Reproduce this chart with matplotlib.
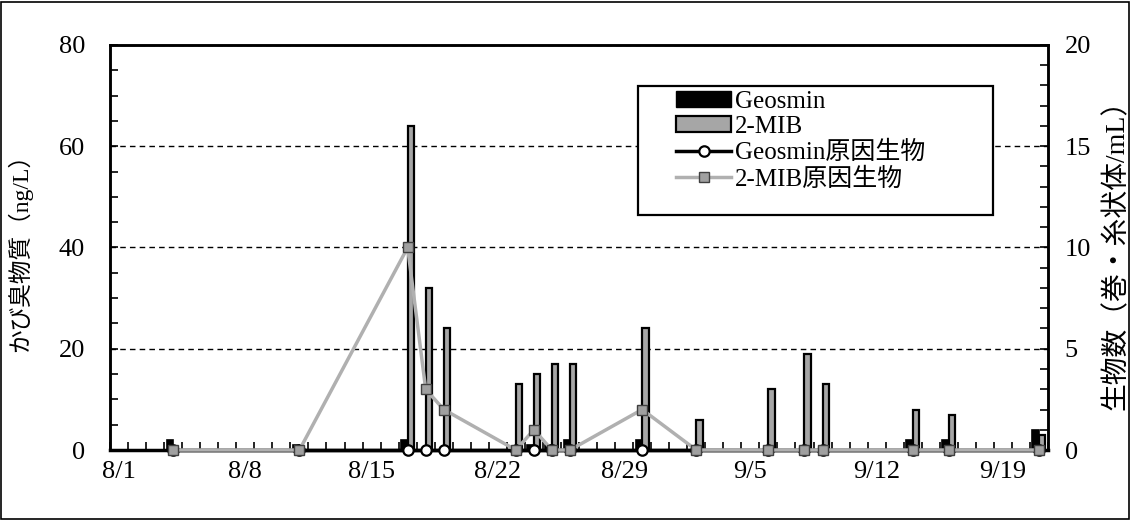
import datetime as dt

import matplotlib.pyplot as plt
from matplotlib.lines import Line2D
from matplotlib.patches import Patch, Rectangle
from matplotlib.ticker import FixedLocator, MultipleLocator

plt.rcParams["font.family"] = ["Liberation Serif", "Noto Sans CJK JP"]

# sampling dates and values
dates = ["8/4", "8/11", "8/17", "8/18", "8/19", "8/23", "8/24", "8/25", "8/26",
         "8/30", "9/2", "9/6", "9/8", "9/9", "9/14", "9/16", "9/21"]
geosmin = [2, 1, 2, 0, 0, 0, 1, 1, 2, 2, 0, 0, 0, 0, 2, 2, 4]
mib = [0, 0, 64, 32, 24, 13, 15, 17, 17, 24, 6, 12, 19, 13, 8, 7, 3]
geosmin_org = [0] * len(dates)
mib_org = [0, 0, 10, 3, 2, 0, 1, 0, 0, 2, 0, 0, 0, 0, 0, 0, 0]

tick_labels = ["8/1", "8/8", "8/15", "8/22", "8/29", "9/5", "9/12", "9/19"]
start = dt.date(2000, 8, 1)
end = dt.date(2000, 9, 21)


def day_index(s):
    m, d = s.split("/")
    return (dt.date(2000, int(m), int(d)) - start).days


x = [day_index(d) for d in dates]
tick_pos = [day_index(t) for t in tick_labels]
n_days = (end - start).days + 1

fig = plt.figure(figsize=(11.31, 5.2), dpi=100)
ax = fig.add_axes([0.0973, 0.1346, 0.8293, 0.7789])
ax2 = ax.twinx()

w = 0.36
ax.bar([v - w / 2 for v in x], geosmin, width=w, color="black",
       edgecolor="black", linewidth=1.2, zorder=3)
ax.bar([v + w / 2 for v in x], mib, width=w, color="#a6a6a6",
       edgecolor="black", linewidth=1.6, zorder=3)

ax2.plot(x, geosmin_org, color="black", lw=2.5, marker="o", ms=7.5,
         mfc="white", mec="black", mew=1.6, zorder=4, clip_on=False)
ax2.plot(x, mib_org, color="#b0b0b0", lw=2.5, marker="s", ms=6.5,
         mfc="#a0a0a0", mec="#404040", mew=1.0, zorder=5, clip_on=False)

ax.set_xlim(-0.5, n_days - 0.5)
ax.set_ylim(0, 80)
ax2.set_ylim(0, 20)

ax.yaxis.set_major_locator(MultipleLocator(20))
ax.yaxis.set_minor_locator(MultipleLocator(5))
ax2.yaxis.set_major_locator(MultipleLocator(5))
ax2.yaxis.set_minor_locator(MultipleLocator(1))
ax.set_xticks(tick_pos)
ax.set_xticklabels(tick_labels)
ax.xaxis.set_minor_locator(FixedLocator([i + 0.5 for i in range(-1, n_days)]))

ax.tick_params(axis="x", which="major", length=0, pad=8, labelsize=19)
ax.tick_params(axis="x", which="minor", direction="in", length=6, width=1.2)
ax.tick_params(axis="y", which="both", direction="in", length=6, width=1.2,
               labelsize=19, pad=18)
ax2.tick_params(axis="y", which="both", direction="in", length=6, width=1.2,
                labelsize=19, pad=12)

for a in (ax, ax2):
    for sp in a.spines.values():
        sp.set_linewidth(1.8)
ax.spines["bottom"].set_linewidth(2.5)

ax.grid(axis="y", which="major", color="black", linestyle=(0, (4, 3)), lw=1.0)
ax.set_axisbelow(True)

ax.set_ylabel("かび臭物質（ng/L）", fontsize=17)
ax2.set_ylabel("生物数（巻・糸状体/mL）", fontsize=20)
ax.yaxis.set_label_coords(-0.083, 0.5)
ax2.yaxis.set_label_coords(1.059, 0.5)

handles = [
    Patch(facecolor="black", edgecolor="black"),
    Patch(facecolor="#a6a6a6", edgecolor="black", linewidth=1.6),
    Line2D([], [], color="black", lw=2.5, marker="o", ms=7.5, mfc="white",
           mec="black", mew=1.6),
    Line2D([], [], color="#b0b0b0", lw=2.5, marker="s", ms=6.5,
           mfc="#a0a0a0", mec="#404040", mew=1.0),
]
labels = ["Geosmin", "2-MIB", "Geosmin原因生物", "2-MIB原因生物"]

# legend frame drawn separately: the entries sit indented inside it
frame = Rectangle((638 / 1131, 1 - 215 / 520), 355 / 1131, 129 / 520,
                  transform=fig.transFigure, facecolor="white",
                  edgecolor="black", linewidth=1.6, zorder=9, clip_on=False)
ax2.add_patch(frame)
leg = ax2.legend(handles, labels, loc="upper left",
                 bbox_to_anchor=(676 / 1131, 1 - 91 / 520),
                 bbox_transform=fig.transFigure, fontsize=18, frameon=False,
                 handlelength=2.2, handleheight=0.6, handletextpad=0.15,
                 labelspacing=0.12, borderpad=0, borderaxespad=0)
leg.set_zorder(10)

fig.patches.append(Rectangle((0.001, 0.002), 0.997, 0.995,
                             transform=fig.transFigure, fill=False,
                             edgecolor="black", linewidth=1.2))

fig.savefig("out.png", dpi=100)
